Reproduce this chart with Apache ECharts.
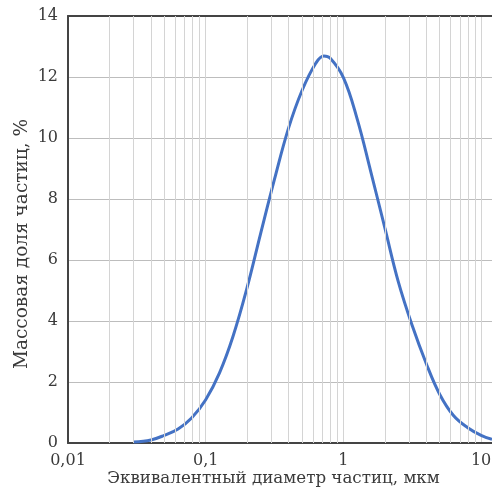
<!DOCTYPE html>
<html>
<head>
<meta charset="utf-8">
<script src="https://cdn.jsdelivr.net/npm/echarts@6/dist/echarts.min.js"></script>
<style>
  html, body { margin: 0; padding: 0; background: #fff; }
  #chart { width: 492px; height: 488px; }
</style>
</head>
<body>
<div id="chart"></div>
<script>
// Particle size distribution (log-scale diameter vs. mass fraction)
const diameters = [0.03, 0.04, 0.05, 0.063, 0.079, 0.1, 0.126, 0.158, 0.2, 0.25, 0.316, 0.398, 0.5, 0.63, 0.72, 0.8, 1.0, 1.26, 1.58, 2.0, 2.5, 3.16, 4.0, 5.0, 6.3, 8.0, 10, 12];
const massFraction = [0.03, 0.1, 0.25, 0.46, 0.82, 1.42, 2.3, 3.5, 5.1, 6.85, 8.65, 10.3, 11.55, 12.45, 12.69, 12.62, 11.98, 10.62, 8.9, 7.05, 5.3, 3.85, 2.6, 1.6, 0.9, 0.5, 0.25, 0.12];
const decades = [0.01, 0.1, 1, 10];
const minorSteps = [2, 3, 4, 5, 6, 7, 8, 9];

const FONT = '"DejaVu Serif", serif';
const TEXT = '#3a3a3a';
const points = diameters.map((d, i) => [d, massFraction[i]]);

// minor vertical grid lines inside each decade
const minorLines = [];
decades.forEach(d => minorSteps.forEach(m => {
  const v = +(d * m).toPrecision(6);
  if (v < 12) minorLines.push({ xAxis: v });
}));

const fmt = v => String(+(+v).toPrecision(6)).replace('.', ',');

const chart = echarts.init(document.getElementById('chart'), null, { renderer: 'canvas' });
chart.setOption({
  animation: false,
  backgroundColor: '#fff',
  grid: { left: 68, right: 0, top: 16, bottom: 45, containLabel: false, outerBoundsMode: 'none' },
  xAxis: [{
    type: 'log', logBase: 10, min: 0.01, max: 12,
    name: 'Эквивалентный диаметр частиц, мкм',
    nameLocation: 'middle', nameGap: 27, nameMoveOverlap: false,
    nameTextStyle: { fontFamily: FONT, fontSize: 16.7, color: TEXT, padding: [0, 13, 0, 0] },
    axisLine: { show: true, lineStyle: { color: '#444', width: 2 } },
    axisTick: { show: false },
    axisLabel: { fontFamily: FONT, fontSize: 16, color: TEXT, margin: 10, formatter: fmt, showMaxLabel: false },
    splitLine: { show: true, showMaxLine: false, lineStyle: { color: '#d4d4d4', width: 1 } }
  }, {
    type: 'log', logBase: 10, min: 0.01, max: 12, position: 'top',
    axisLine: { show: true, lineStyle: { color: '#444', width: 2 } },
    axisTick: { show: false }, axisLabel: { show: false }, splitLine: { show: false }
  }],
  yAxis: {
    type: 'value', min: 0, max: 14, interval: 2,
    name: 'Массовая доля частиц, %',
    nameLocation: 'middle', nameGap: 36, nameMoveOverlap: false,
    nameTextStyle: { fontFamily: FONT, fontSize: 18.5, color: TEXT, padding: [0, 29, 0, 0] },
    axisLine: { show: true, lineStyle: { color: '#444', width: 2 } },
    axisTick: { show: false },
    axisLabel: { fontFamily: FONT, fontSize: 16, color: TEXT, margin: 10 },
    splitLine: { show: true, lineStyle: { color: '#bdbdbd', width: 1 } }
  },
  series: [{
    type: 'line', data: [], silent: true, z: 1,
    markLine: {
      silent: true, symbol: 'none', animation: false,
      label: { show: false },
      lineStyle: { color: '#d4d4d4', width: 1, type: 'solid' },
      data: minorLines
    }
  }, {
    type: 'line', data: points, smooth: 0.4, showSymbol: false, z: 3,
    lineStyle: { color: '#4472c4', width: 3 }
  }]
});
</script>
</body>
</html>
